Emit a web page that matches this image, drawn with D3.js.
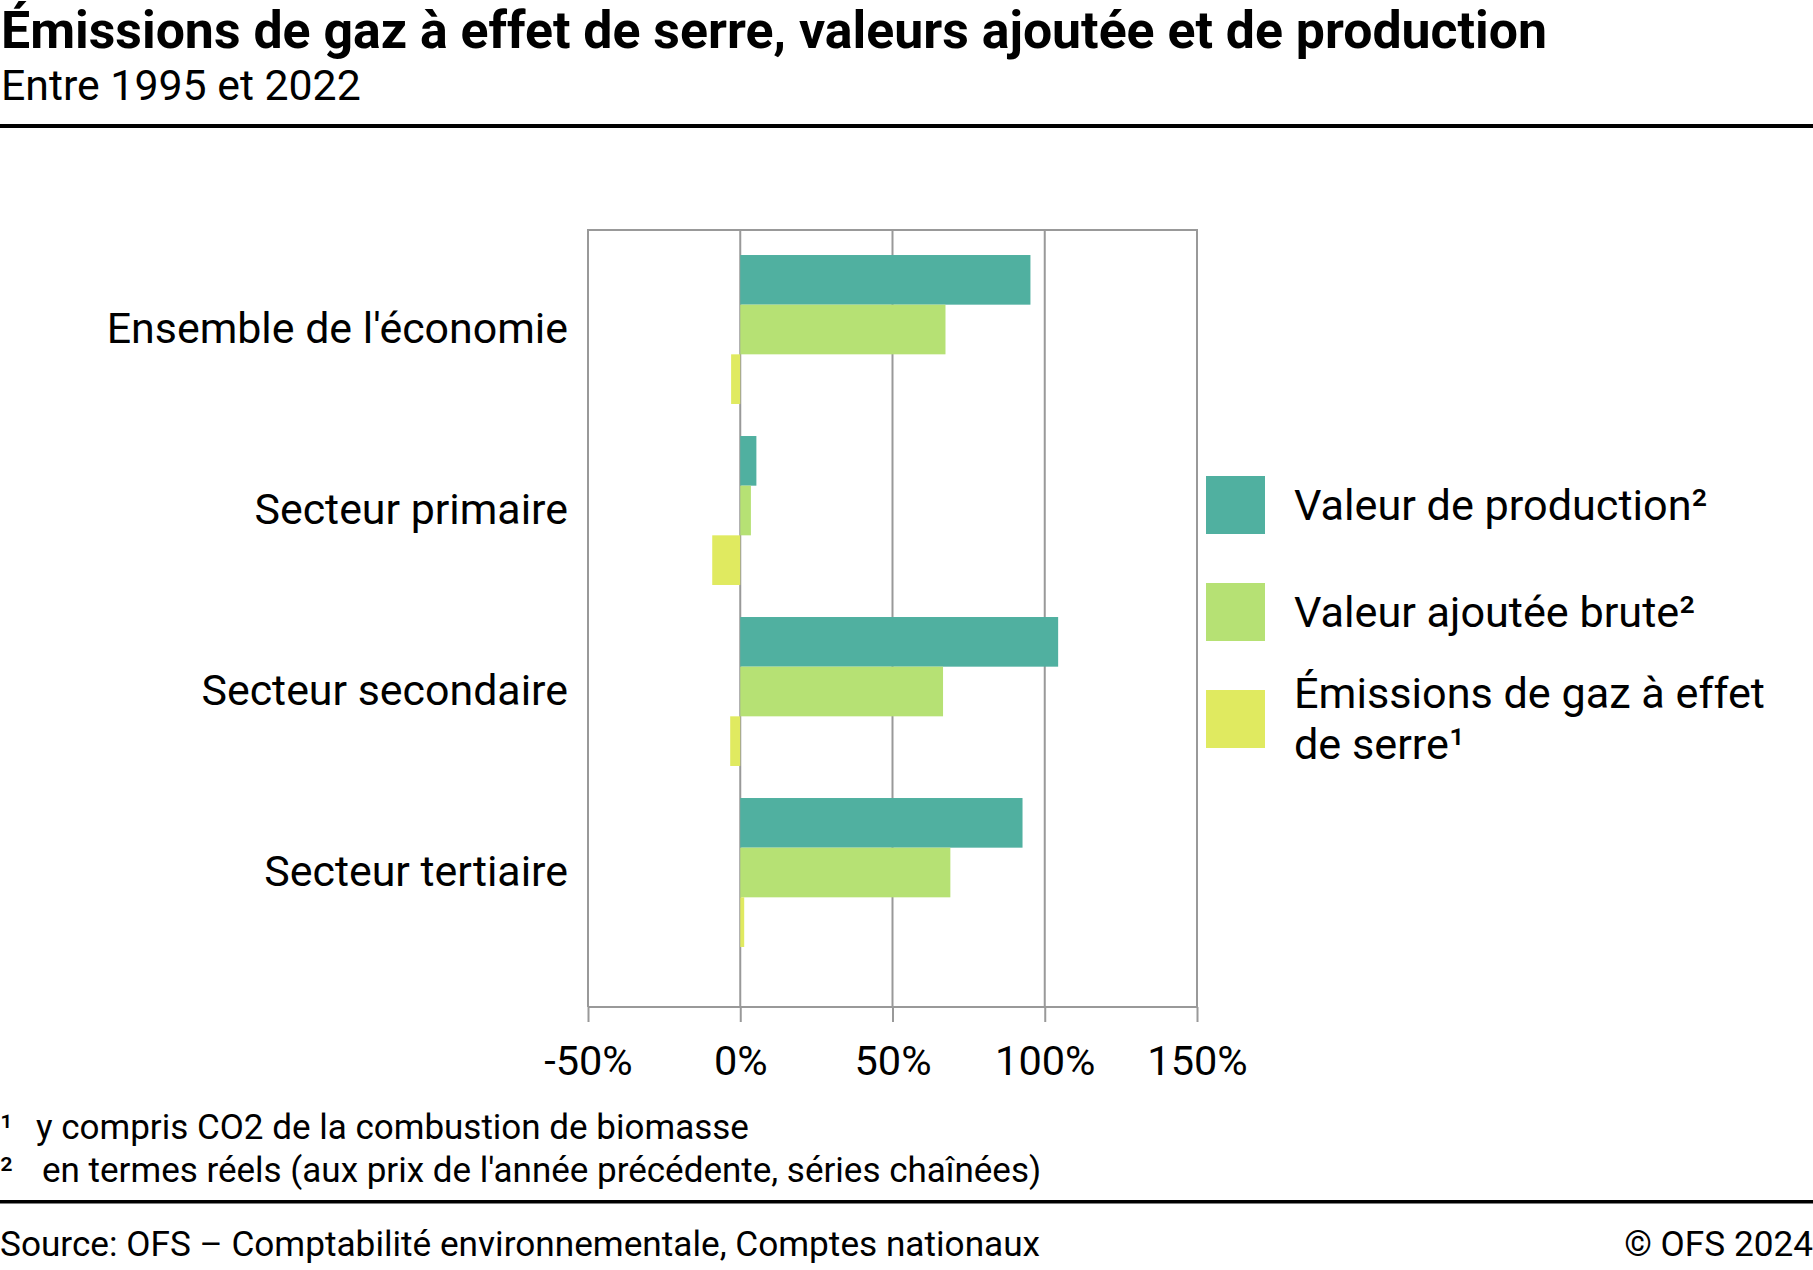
<!DOCTYPE html>
<html>
<head>
<meta charset="utf-8">
<script src="https://cdn.jsdelivr.net/npm/d3@7"></script>
<style>
  html, body { margin: 0; padding: 0; background: #fff; }
  svg { display: block; font-family: Roboto, "Noto Sans", sans-serif; }
</style>
</head>
<body>
<svg id="chart" width="1813" height="1270"></svg>
<script>
// ---- data ----
const categories = ["Ensemble de l'économie", "Secteur primaire", "Secteur secondaire", "Secteur tertiaire"];
const seriesNames = ["Valeur de production²", "Valeur ajoutée brute²", "Émissions de gaz à effet de serre¹"];
const productionValues = [95.3, 5.3, 104.4, 92.7];
const valueAddedValues = [67.4, 3.5, 66.6, 69.0];
const emissionValues = [-3.0, -9.2, -3.3, 1.3];
const tickValues = [-50, 0, 50, 100, 150];
const tickLabels = ["-50%", "0%", "50%", "100%", "150%"];
const seriesColors = ["#50B0A0", "#B6E174", "#E0EA60"];

const titleText = "Émissions de gaz à effet de serre, valeurs ajoutée et de production";
const subtitleText = "Entre 1995 et 2022";
const footnotes = [["¹", "y compris CO2 de la combustion de biomasse"], ["²", "en termes réels (aux prix de l'année précédente, séries chaînées)"]];
const sourceText = "Source: OFS – Comptabilité environnementale, Comptes nationaux";
const copyrightText = "© OFS 2024";

const seriesValues = [productionValues, valueAddedValues, emissionValues];
const rows = categories.map((c, i) => ({ cat: c, vals: seriesNames.map((s, j) => ({ s, v: seriesValues[j][i] })) }));

// ---- layout ----
const W = 1813, H = 1270;
const plot = { left: 588, right: 1197, top: 230, bottom: 1007 };
const svg = d3.select("#chart");
const gridColor = "#999999";

const x = d3.scaleLinear().domain([-50, 150]).range([plot.left, plot.right]);
const y = d3.scaleBand().domain(categories).range([239, 963]).paddingInner(0.177).paddingOuter(0.0885);
const ySub = d3.scaleBand().domain(seriesNames).range([0, y.bandwidth()]);
const color = d3.scaleOrdinal().domain(seriesNames).range(seriesColors);

// title
svg.append("text").attr("x", 1).attr("y", 47.5).attr("font-size", 51.8).attr("font-weight", 700)
  .attr("fill", "#000").text(titleText);
svg.append("text").attr("x", 1).attr("y", 100).attr("font-size", 42.8).attr("fill", "#000").text(subtitleText);
svg.append("rect").attr("x", 0).attr("y", 124).attr("width", W).attr("height", 4).attr("fill", "#000");

// grid
svg.append("g").selectAll("line").data([0, 50, 100]).join("line")
  .attr("x1", d => x(d)).attr("x2", d => x(d))
  .attr("y1", plot.top).attr("y2", plot.bottom)
  .attr("stroke", gridColor).attr("stroke-width", 2);
// frame (top, left, right)
svg.append("path")
  .attr("d", `M${plot.left},${plot.bottom} V${plot.top} H${plot.right} V${plot.bottom}`)
  .attr("fill", "none").attr("stroke", gridColor).attr("stroke-width", 2);

// bars
const groups = svg.append("g").selectAll("g").data(rows).join("g")
  .attr("transform", d => `translate(0,${y(d.cat)})`);
groups.selectAll("rect").data(d => d.vals).join("rect")
  .attr("x", d => x(Math.min(0, d.v)))
  .attr("width", d => Math.abs(x(d.v) - x(0)))
  .attr("y", d => ySub(d.s))
  .attr("height", ySub.bandwidth())
  .attr("fill", d => color(d.s));

// x axis
const xAxis = d3.axisBottom(x).tickValues(tickValues).tickSize(15).tickPadding(24)
  .tickFormat((d, i) => tickLabels[i]);
const gx = svg.append("g").attr("transform", `translate(0,${plot.bottom})`).call(xAxis);
gx.select(".domain").attr("stroke", gridColor).attr("stroke-width", 2).attr("d", `M${plot.left},0H${plot.right}`);
gx.selectAll(".tick line").attr("stroke", gridColor).attr("stroke-width", 2);
gx.selectAll(".tick text").attr("font-size", 41.5).attr("fill", "#000").attr("font-family", "Roboto");

// y axis labels
const yAxis = d3.axisLeft(y).tickSize(0).tickPadding(0);
const gy = svg.append("g").attr("transform", `translate(568,0)`).call(yAxis);
gy.select(".domain").remove();
gy.selectAll(".tick text").attr("font-size", 42.9).attr("fill", "#000").attr("font-family", "Roboto");

// legend
const legendItems = [
  { s: seriesNames[0], lines: ["Valeur de production²"] },
  { s: seriesNames[1], lines: ["Valeur ajoutée brute²"] },
  { s: seriesNames[2], lines: ["Émissions de gaz à effet", "de serre¹"] }
];
const lg = svg.append("g").attr("transform", "translate(1206,476)");
const li = lg.selectAll("g").data(legendItems).join("g").attr("transform", (d, i) => `translate(0,${i * 107})`);
li.append("rect").attr("width", 59).attr("height", 58).attr("fill", d => color(d.s));
li.append("text").attr("x", 89).attr("font-size", 43.2).attr("fill", "#000")
  .each(function (d) {
    const t = d3.select(this);
    const y0 = d.lines.length === 1 ? 44 : 18;
    d.lines.forEach((l, k) => t.append("tspan").attr("x", 88).attr("y", y0 + k * 51).text(l));
  });

// footnotes
const fn = svg.append("g");
footnotes.forEach((f, i) => {
  const yy = 1139 + i * 43;
  fn.append("text").attr("x", 0).attr("y", yy).attr("font-size", 35).text(f[0]);
  fn.append("text").attr("x", i === 0 ? 36 : 42).attr("y", yy).attr("font-size", 35).text(f[1]);
});
svg.append("rect").attr("x", 0).attr("y", 1200).attr("width", W).attr("height", 3.5).attr("fill", "#000");
svg.append("text").attr("x", 0).attr("y", 1256).attr("font-size", 35.2).text(sourceText);
svg.append("text").attr("x", W).attr("y", 1256).attr("font-size", 35.2).attr("text-anchor", "end").text(copyrightText);
</script>
</body>
</html>
